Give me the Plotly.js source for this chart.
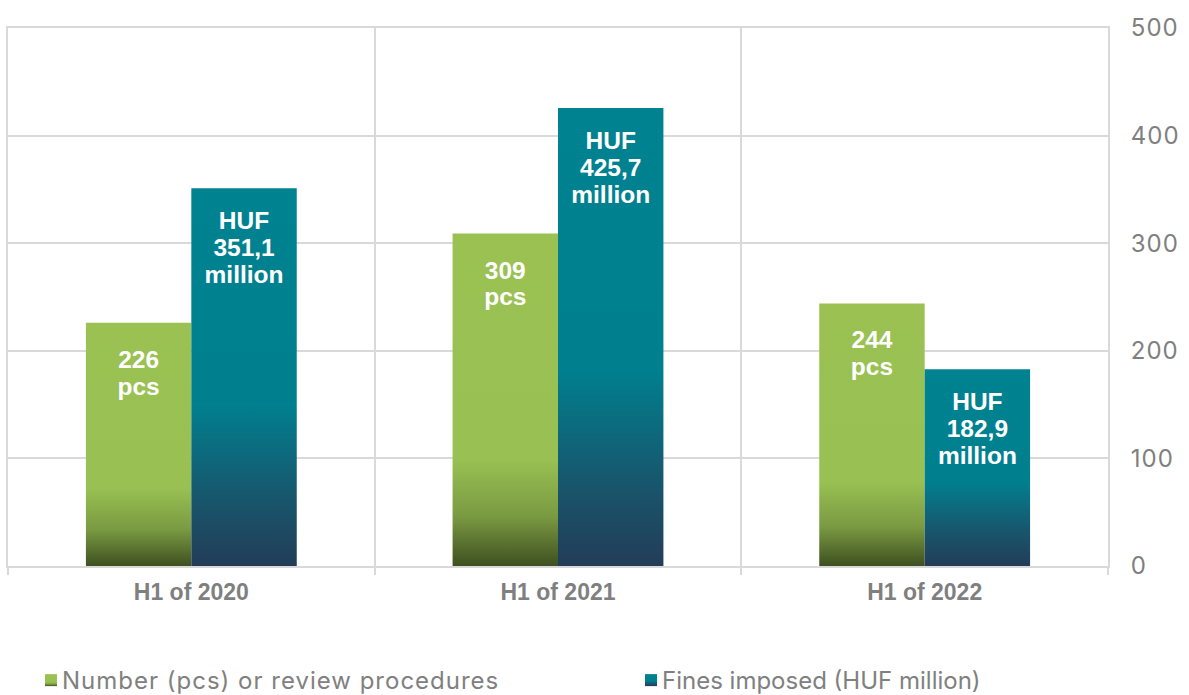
<!DOCTYPE html>
<html>
<head>
<meta charset="utf-8">
<script src="https://cdn.plot.ly/plotly-3.0.1.min.js"></script>
<style>
html,body{margin:0;padding:0;background:#fff;}
#chart{width:1189px;height:695px;}
.legendtext{letter-spacing:1px;}
.ytick text{letter-spacing:1px;}
</style>
</head>
<body>
<div id="chart"></div>
<script>
const categories = ["H1 of 2020", "H1 of 2021", "H1 of 2022"];
const procedures = [226, 309, 244];
const procedureLabels = ["226<br>pcs", "309<br>pcs", "244<br>pcs"];
const fines = [351.1, 425.7, 182.9];
const fineLabels = ["HUF<br>351,1<br>million", "HUF<br>425,7<br>million", "HUF<br>182,9<br>million"];
const seriesNames = ["Number (pcs) or review procedures", "Fines imposed (HUF million)"];
const yTicks = [0, 100, 200, 300, 400, 500];

const FONT = "Inter, Roboto, sans-serif";
const BOLD = "'Liberation Sans', Arial, sans-serif";
const labelFont = {family: BOLD, size: 24.5, color: "#ffffff", weight: 700};
const GRID = "#d9d9d9";

const data = [
  {
    type: "bar", name: seriesNames[0], x: categories, y: procedures,
    text: procedureLabels, textposition: "inside", insidetextanchor: "end",
    textangle: 0, insidetextfont: labelFont, constraintext: "none",
    marker: {color: "#9bc153", line: {width: 0}}, hoverinfo: "skip",
    legend: "legend"
  },
  {
    type: "bar", name: seriesNames[1], x: categories, y: fines,
    text: fineLabels, textposition: "inside", insidetextanchor: "end",
    textangle: 0, insidetextfont: labelFont, constraintext: "none",
    marker: {color: "#008291", line: {width: 0}}, hoverinfo: "skip",
    legend: "legend2"
  }
];

const layout = {
  width: 1189, height: 695,
  margin: {l: 8, r: 81, t: 28, b: 129, autoexpand: false},
  paper_bgcolor: "#ffffff", plot_bgcolor: "#ffffff",
  barmode: "group", bargap: 0.425, bargroupgap: 0,
  font: {family: FONT, color: "#7f7f7f"},
  xaxis: {
    type: "category", range: [-0.5, 2.5], tickson: "boundaries",
    showgrid: true, gridcolor: GRID, gridwidth: 2,
    ticks: "outside", ticklen: 7, tickcolor: GRID, tickwidth: 2,
    showline: true, mirror: true, linecolor: GRID, linewidth: 2,
    ticklabelstandoff: 4,
    tickfont: {family: BOLD, size: 23, color: "#7f7f7f", weight: 700},
    zeroline: false, fixedrange: true, automargin: false
  },
  yaxis: {
    side: "right", range: [0, 500], tickvals: yTicks,
    showgrid: true, gridcolor: GRID, gridwidth: 2,
    zeroline: false, showline: true, mirror: true, linecolor: GRID, linewidth: 2,
    ticks: "", ticklabelstandoff: 16,
    tickfont: {family: FONT, size: 24, color: "#7f7f7f"},
    fixedrange: true, automargin: false
  },
  showlegend: true,
  legend: {
    orientation: "h", x: 0.0127, xanchor: "left", y: -0.2398, yanchor: "bottom",
    font: {family: FONT, size: 24, color: "#808080"}, itemwidth: 30, bgcolor: "rgba(0,0,0,0)"
  },
  legend2: {
    orientation: "h", x: 0.5582, xanchor: "left", y: -0.2398, yanchor: "bottom",
    font: {family: FONT, size: 24, color: "#808080"}, itemwidth: 30, bgcolor: "rgba(0,0,0,0)"
  }
};

Plotly.newPlot("chart", data, layout, {displayModeBar: false, staticPlot: true}).then(gd => {
  const NS = "http://www.w3.org/2000/svg";
  const svg = gd.querySelector(".main-svg");
  let defs = svg.querySelector("defs");
  if (!defs) { defs = document.createElementNS(NS, "defs"); svg.insertBefore(defs, svg.firstChild); }
  function grad(id, stops) {
    const g = document.createElementNS(NS, "linearGradient");
    g.setAttribute("id", id);
    g.setAttribute("x1", "0"); g.setAttribute("y1", "0");
    g.setAttribute("x2", "0"); g.setAttribute("y2", "1");
    stops.forEach(([o, c]) => {
      const s = document.createElementNS(NS, "stop");
      s.setAttribute("offset", o); s.setAttribute("stop-color", c);
      g.appendChild(s);
    });
    defs.appendChild(g);
  }
  grad("grad0", [[0, "#9bc153"], [0.68, "#98c052"], [0.85, "#7a9a42"], [1, "#3e5020"]]);
  grad("grad1", [[0, "#008291"], [0.57, "#00808f"], [0.8, "#16596f"], [1, "#233d58"]]);
  const textShift = [20, 16];
  gd.querySelectorAll(".barlayer .trace").forEach((tr, i) => {
    tr.querySelectorAll(".point path").forEach(p => { p.style.fill = "url(#grad" + i + ")"; });
    tr.querySelectorAll("text.bartext").forEach(t => {
      t.querySelectorAll("tspan.line").forEach((ts, k) => {
        ts.setAttribute("dy", (k * 1.1) + "em");
      });
      t.setAttribute("transform", (t.getAttribute("transform") || "") + " translate(0," + textShift[i] + ")");
    });
  });
  ["legend", "legend2"].forEach((cls, i) => {
    const lg = gd.querySelector("g." + cls);
    if (!lg) return;
    lg.setAttribute("transform", (lg.getAttribute("transform") || "") + " translate(0,8)");
    lg.querySelectorAll(".legendpoints").forEach(lp => {
      lp.setAttribute("transform", (lp.getAttribute("transform") || "") + " translate(9,0)");
      lp.querySelectorAll("path").forEach(p => { p.style.fill = "url(#grad" + i + ")"; });
    });
  });
});
</script>
</body>
</html>
